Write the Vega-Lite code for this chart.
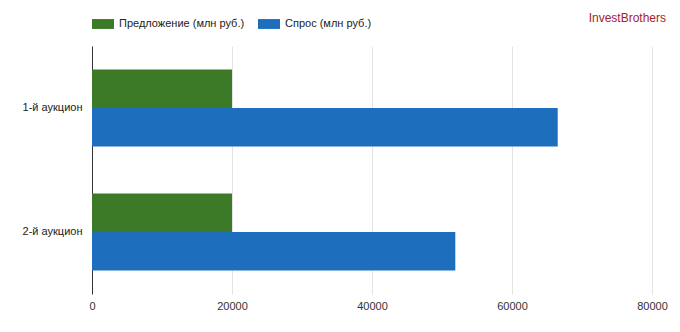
{
  "$schema": "https://vega.github.io/schema/vega-lite/v6.json",
  "width": 560,
  "height": 248,
  "autosize": {"type": "none"},
  "padding": {"left": 92, "top": 46, "right": 28, "bottom": 38},
  "background": "white",
  "title": {
    "text": "InvestBrothers",
    "anchor": "end",
    "frame": "group",
    "orient": "top",
    "offset": -12,
    "dx": 14,
    "fontSize": 12,
    "font": "Liberation Sans",
    "fontWeight": "normal",
    "color": "#a3232e"
  },
  "data": {
    "values": [
      {"auction": "1-й аукцион", "series": "Предложение (млн руб.)", "value": 20000},
      {"auction": "1-й аукцион", "series": "Спрос (млн руб.)", "value": 66530},
      {"auction": "2-й аукцион", "series": "Предложение (млн руб.)", "value": 20000},
      {"auction": "2-й аукцион", "series": "Спрос (млн руб.)", "value": 51900}
    ]
  },
  "config": {
    "font": "Liberation Sans",
    "view": {"stroke": null}
  },
  "mark": {"type": "bar"},
  "encoding": {
    "y": {
      "field": "auction",
      "type": "nominal",
      "sort": ["1-й аукцион", "2-й аукцион"],
      "scale": {"paddingInner": 0.38, "paddingOuter": 0.19},
      "axis": {
        "title": null,
        "ticks": false,
        "domain": true,
        "domainColor": "#333333",
        "domainWidth": 1,
        "labelFontSize": 11,
        "labelColor": "#222222",
        "labelPadding": 10,
        "grid": false
      }
    },
    "yOffset": {
      "field": "series",
      "type": "nominal",
      "sort": ["Предложение (млн руб.)", "Спрос (млн руб.)"],
      "scale": {"paddingInner": 0, "paddingOuter": 0}
    },
    "x": {
      "field": "value",
      "type": "quantitative",
      "scale": {"domain": [0, 80000], "nice": false},
      "axis": {
        "title": null,
        "values": [0, 20000, 40000, 60000, 80000],
        "format": "d",
        "domain": false,
        "ticks": false,
        "grid": true,
        "gridColor": "#e3e3e3",
        "gridWidth": 1,
        "labelFlush": false,
        "labelFontSize": 11,
        "labelColor": "#333333",
        "labelPadding": 6
      }
    },
    "color": {
      "field": "series",
      "type": "nominal",
      "sort": ["Предложение (млн руб.)", "Спрос (млн руб.)"],
      "scale": {"range": ["#3d7a27", "#1d6fbe"]},
      "legend": {
        "title": null,
        "orient": "none",
        "direction": "horizontal",
        "legendX": 0,
        "legendY": -33,
        "symbolType": "M-1,-0.45H1V0.45H-1Z",
        "symbolSize": 484,
        "symbolStrokeWidth": 0,
        "symbolOpacity": 1,
        "labelOffset": 5,
        "columnPadding": 13,
        "labelFontSize": 11,
        "labelColor": "#222222",
        "padding": 0
      }
    }
  }
}
